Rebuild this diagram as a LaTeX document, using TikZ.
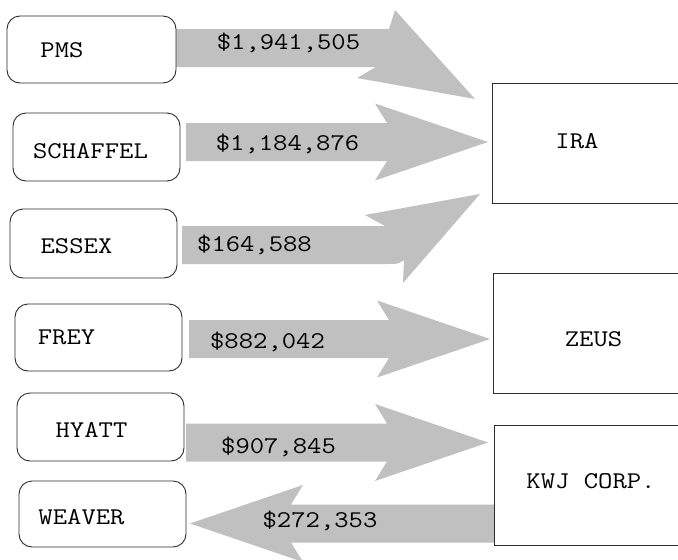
\documentclass[tikz,border=0pt]{standalone}
\usepackage{graphicx}
\usetikzlibrary{calc}

\definecolor{flowgray}{RGB}{192,192,192}
\definecolor{edgegray}{RGB}{45,45,45}

% wide typewriter lettering
\newcommand\wtt[1]{\scalebox{1.16}[1]{#1}}

% straight block arrow from tail coordinate #1 to tip coordinate #2
\newcommand\flowarrow[2]{%
  \fill[flowgray]
    ($(#1)!19pt!-90:(#2)$)
    -- ($(#2)!101pt!(#1)!19pt!90:(#1)$)
    -- ($(#2)!113pt!(#1)!38.5pt!90:(#1)$)
    -- (#2)
    -- ($(#2)!113pt!(#1)!38.5pt!-90:(#1)$)
    -- ($(#2)!101pt!(#1)!19pt!-90:(#1)$)
    -- ($(#1)!19pt!90:(#2)$)
    -- cycle;}

\tikzset{
  srcbox/.style={draw=edgegray, line width=0.9pt, rounded corners=13pt, fill=white,
                 minimum width=167pt, minimum height=68pt, inner sep=0pt},
  dstbox/.style={draw=edgegray, line width=0.9pt, fill=white,
                 minimum width=208pt, minimum height=120pt, inner sep=0pt},
  txt/.style={font=\fontsize{24}{28}\selectfont\ttfamily, inner sep=0pt, anchor=base},
}

\begin{document}
\begin{tikzpicture}[x=1pt, y=-1pt]
  \useasboundingbox (0,0) rectangle (678,560);
  \clip (0,0) rectangle (678,560);
  \fill[white] (0,0) rectangle (678,560);

  % arrow end points
  \coordinate (schT) at (186,142);   \coordinate (schH) at (488,142);
  \coordinate (freT) at (189,339);   \coordinate (freH) at (490,339);
  \coordinate (hyaT) at (186,442.5); \coordinate (hyaH) at (488,442.5);
  \coordinate (kwjT) at (495,523.5); \coordinate (weaH) at (190,523.5);

  % flows
  \fill[flowgray] (176,29) -- (389,29) -- (395,10) -- (475,99) -- (357,78)
                  -- (376,67) -- (176,67) -- cycle;
  \flowarrow{schT}{schH}
  \fill[flowgray] (182,226) -- (385,226) -- (365,215) -- (480,194) -- (403,283)
                  -- (404,260) .. controls (398,264) .. (387,264) -- (182,264) -- cycle;
  \flowarrow{freT}{freH}
  \flowarrow{hyaT}{hyaH}
  \flowarrow{kwjT}{weaH}

  % sources
  \node[srcbox, minimum width=169pt, minimum height=67pt] (pms) at (91.5,49.5) {};
  \node[srcbox] (schaffel) at (96.5,147) {};
  \node[srcbox, minimum height=69pt] (essex) at (93.5,243.5) {};
  \node[srcbox, minimum height=67pt] (frey) at (98.5,337.5) {};
  \node[srcbox] (hyatt) at (100.5,427) {};
  \node[srcbox, minimum height=66pt] (weaver) at (102.5,514) {};

  % recipients
  \node[dstbox] (ira) at (596,143) {};
  \node[dstbox] (zeus) at (597,333) {};
  \node[dstbox] (kwj) at (598,485) {};

  % names
  \node[txt] (pmsL) at (62,57) {\wtt{PMS}};
  \node[txt] (schaffelL) at (90.5,158) {\wtt{SCHAFFEL}};
  \node[txt] (essexL) at (76.5,253) {\wtt{ESSEX}};
  \node[txt] (freyL) at (66.5,344) {\wtt{FREY}};
  \node[txt] (hyattL) at (91.5,437) {\wtt{HYATT}};
  \node[txt] (weaverL) at (81.5,524) {\wtt{WEAVER}};
  \node[txt] (iraL) at (577,148) {\wtt{IRA}};
  \node[txt] (zeusL) at (593.5,346) {\wtt{ZEUS}};
  \node[txt] (kwjL) at (591,488) {\wtt{KWJ CORP.}};

  % amounts
  \node[txt] (a1) at (288.5,49) {\wtt{\$1,941,505}};
  \node[txt] (a2) at (287.5,150) {\wtt{\$1,184,876}};
  \node[txt] (a3) at (254.5,251) {\wtt{\$164,588}};
  \node[txt] (a4) at (267.5,348) {\wtt{\$882,042}};
  \node[txt] (a5) at (278.5,453) {\wtt{\$907,845}};
  \node[txt] (a6) at (320,527) {\wtt{\$272,353}};
\end{tikzpicture}
\end{document}
